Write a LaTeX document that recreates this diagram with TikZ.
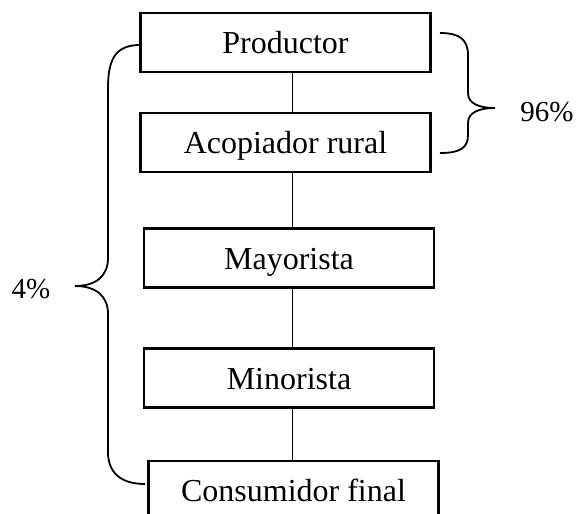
\documentclass[tikz,border=0pt]{standalone}
\usepackage{fontspec}
\setmainfont{Liberation Serif}
\usepackage{tikz}
\usetikzlibrary{calc,positioning}

\begin{document}
\begin{tikzpicture}[x=1pt,y=-1pt,
  caja/.style={draw,line width=2.2pt,minimum width=290pt,minimum height=59pt,
    inner sep=0pt,text height=22pt,text depth=0pt,font=\fontsize{32}{38}\selectfont},
  linea/.style={line width=1.5pt},
  llave/.style={line width=1.8pt},
  pct/.style={font=\fontsize{29}{34}\selectfont}]
\useasboundingbox (0,0) rectangle (576,514);
\clip (0,0) rectangle (576,514);

\node[caja] (p) at (285.5,42.5) {Productor};
\node[caja] (ar) at (285.5,142.5) {Acopiador rural};
\node[caja] (my) at (289,258) {Mayorista};
\node[caja] (mn) at (289,378) {Minorista};
\node[caja] (cf) at (293.5,490.5) {Consumidor final}; %bottom edge cut off
\coordinate (s) at (292.5,0);

\draw[linea] (p.south -| s) -- (ar.north -| s);
\draw[linea] (ar.south -| s) -- (my.north -| s);
\draw[linea] (my.south -| s) -- (mn.north -| s);
\draw[linea] (mn.south -| s) -- (cf.north -| s);

%llaves
\draw[llave] (140,45) .. controls (115,45) and (108,60) .. (108,88) -- (108,258)
  .. controls (108,276) and (96,286) .. (75,286)
  .. controls (96,286) and (108,296) .. (108,314) -- (108,452)
  .. controls (108,472) and (120,484) .. (145,484);
\draw[llave] (440,33) .. controls (460,33) and (468,40) .. (468,55) -- (468,93)
  .. controls (468,103) and (478,108) .. (495,108)
  .. controls (478,108) and (468,113) .. (468,123) -- (468,135)
  .. controls (468,148) and (460,153) .. (440,153);

\node[pct] (q) at (31,289) {4\%};
\node[pct] (r) at (547,112) {96\%};
\end{tikzpicture}
\end{document}
